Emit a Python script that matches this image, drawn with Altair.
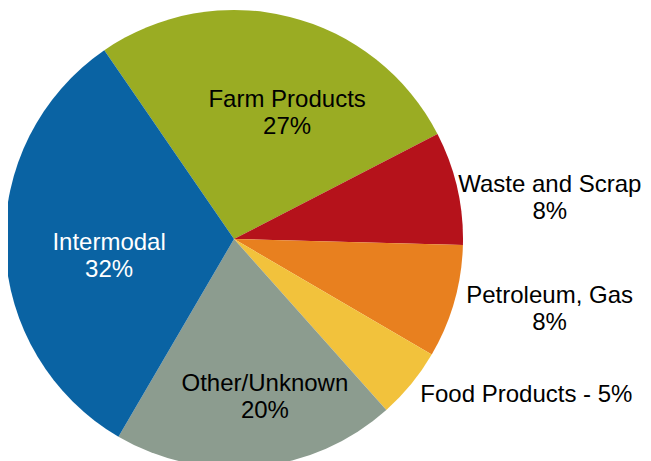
import altair as alt
import pandas as pd
import math

categories = ["Farm Products", "Waste and Scrap", "Petroleum, Gas", "Food Products", "Other/Unknown", "Intermodal"]
shares = [27, 8, 8, 5, 20, 32]
labels = ["Farm Products\n27%", "Waste and Scrap\n8%", "Petroleum, Gas\n8%", "Food Products - 5%", "Other/Unknown\n20%", "Intermodal\n32%"]
colors = ["#9AAC23", "#B5121B", "#E8801F", "#F2C23C", "#8C9C8F", "#0A63A3"]

df = pd.DataFrame({"category": categories, "share": shares, "label": labels, "order": list(range(len(categories)))})

start = math.radians(-34.5)
theta_scale = alt.Scale(domain=[0, 100], range=[start, start + 2 * math.pi])

base = alt.Chart(df).transform_window(
    cum_end="sum(share)", sort=[alt.SortField("order")], frame=[None, 0]
).transform_calculate(
    cum_start="datum.cum_end - datum.share",
    mid="datum.cum_end - datum.share / 2",
)

pie = base.mark_arc(radius=229, stroke=None).encode(
    theta=alt.Theta("cum_start:Q", scale=theta_scale),
    theta2="cum_end:Q",
    color=alt.Color("category:N", scale=alt.Scale(domain=categories, range=colors), legend=None),
)

def label_layer(cat, r, dx, dy, color="black"):
    return base.mark_text(
        radius=r, dx=dx, dy=dy, font="Liberation Sans", fontSize=24,
        lineBreak="\n", lineHeight=27, align="center", baseline="middle", color=color,
    ).encode(
        theta=alt.Theta("mid:Q", scale=theta_scale),
        text="label:N",
    ).transform_filter(alt.datum.category == cat)

layers = [pie,
          label_layer("Farm Products", 136, 20, -7),
          label_layer("Intermodal", 127, 2, -1, "white"),
          label_layer("Other/Unknown", 160, 15, -14),
          label_layer("Waste and Scrap", 327, -3, 19),
          label_layer("Petroleum, Gas", 324, 4, -32),
          label_layer("Food Products", 330, 37, -53)]

chart = alt.layer(*layers).properties(
    width=458, height=462,
    padding={"left": -3, "top": 0, "right": 180, "bottom": 0},
    autosize=alt.AutoSizeParams(type="none"),
    background="white",
).configure_view(stroke=None)

chart.save("out.html", embed_options={"renderer": "svg", "actions": False})
